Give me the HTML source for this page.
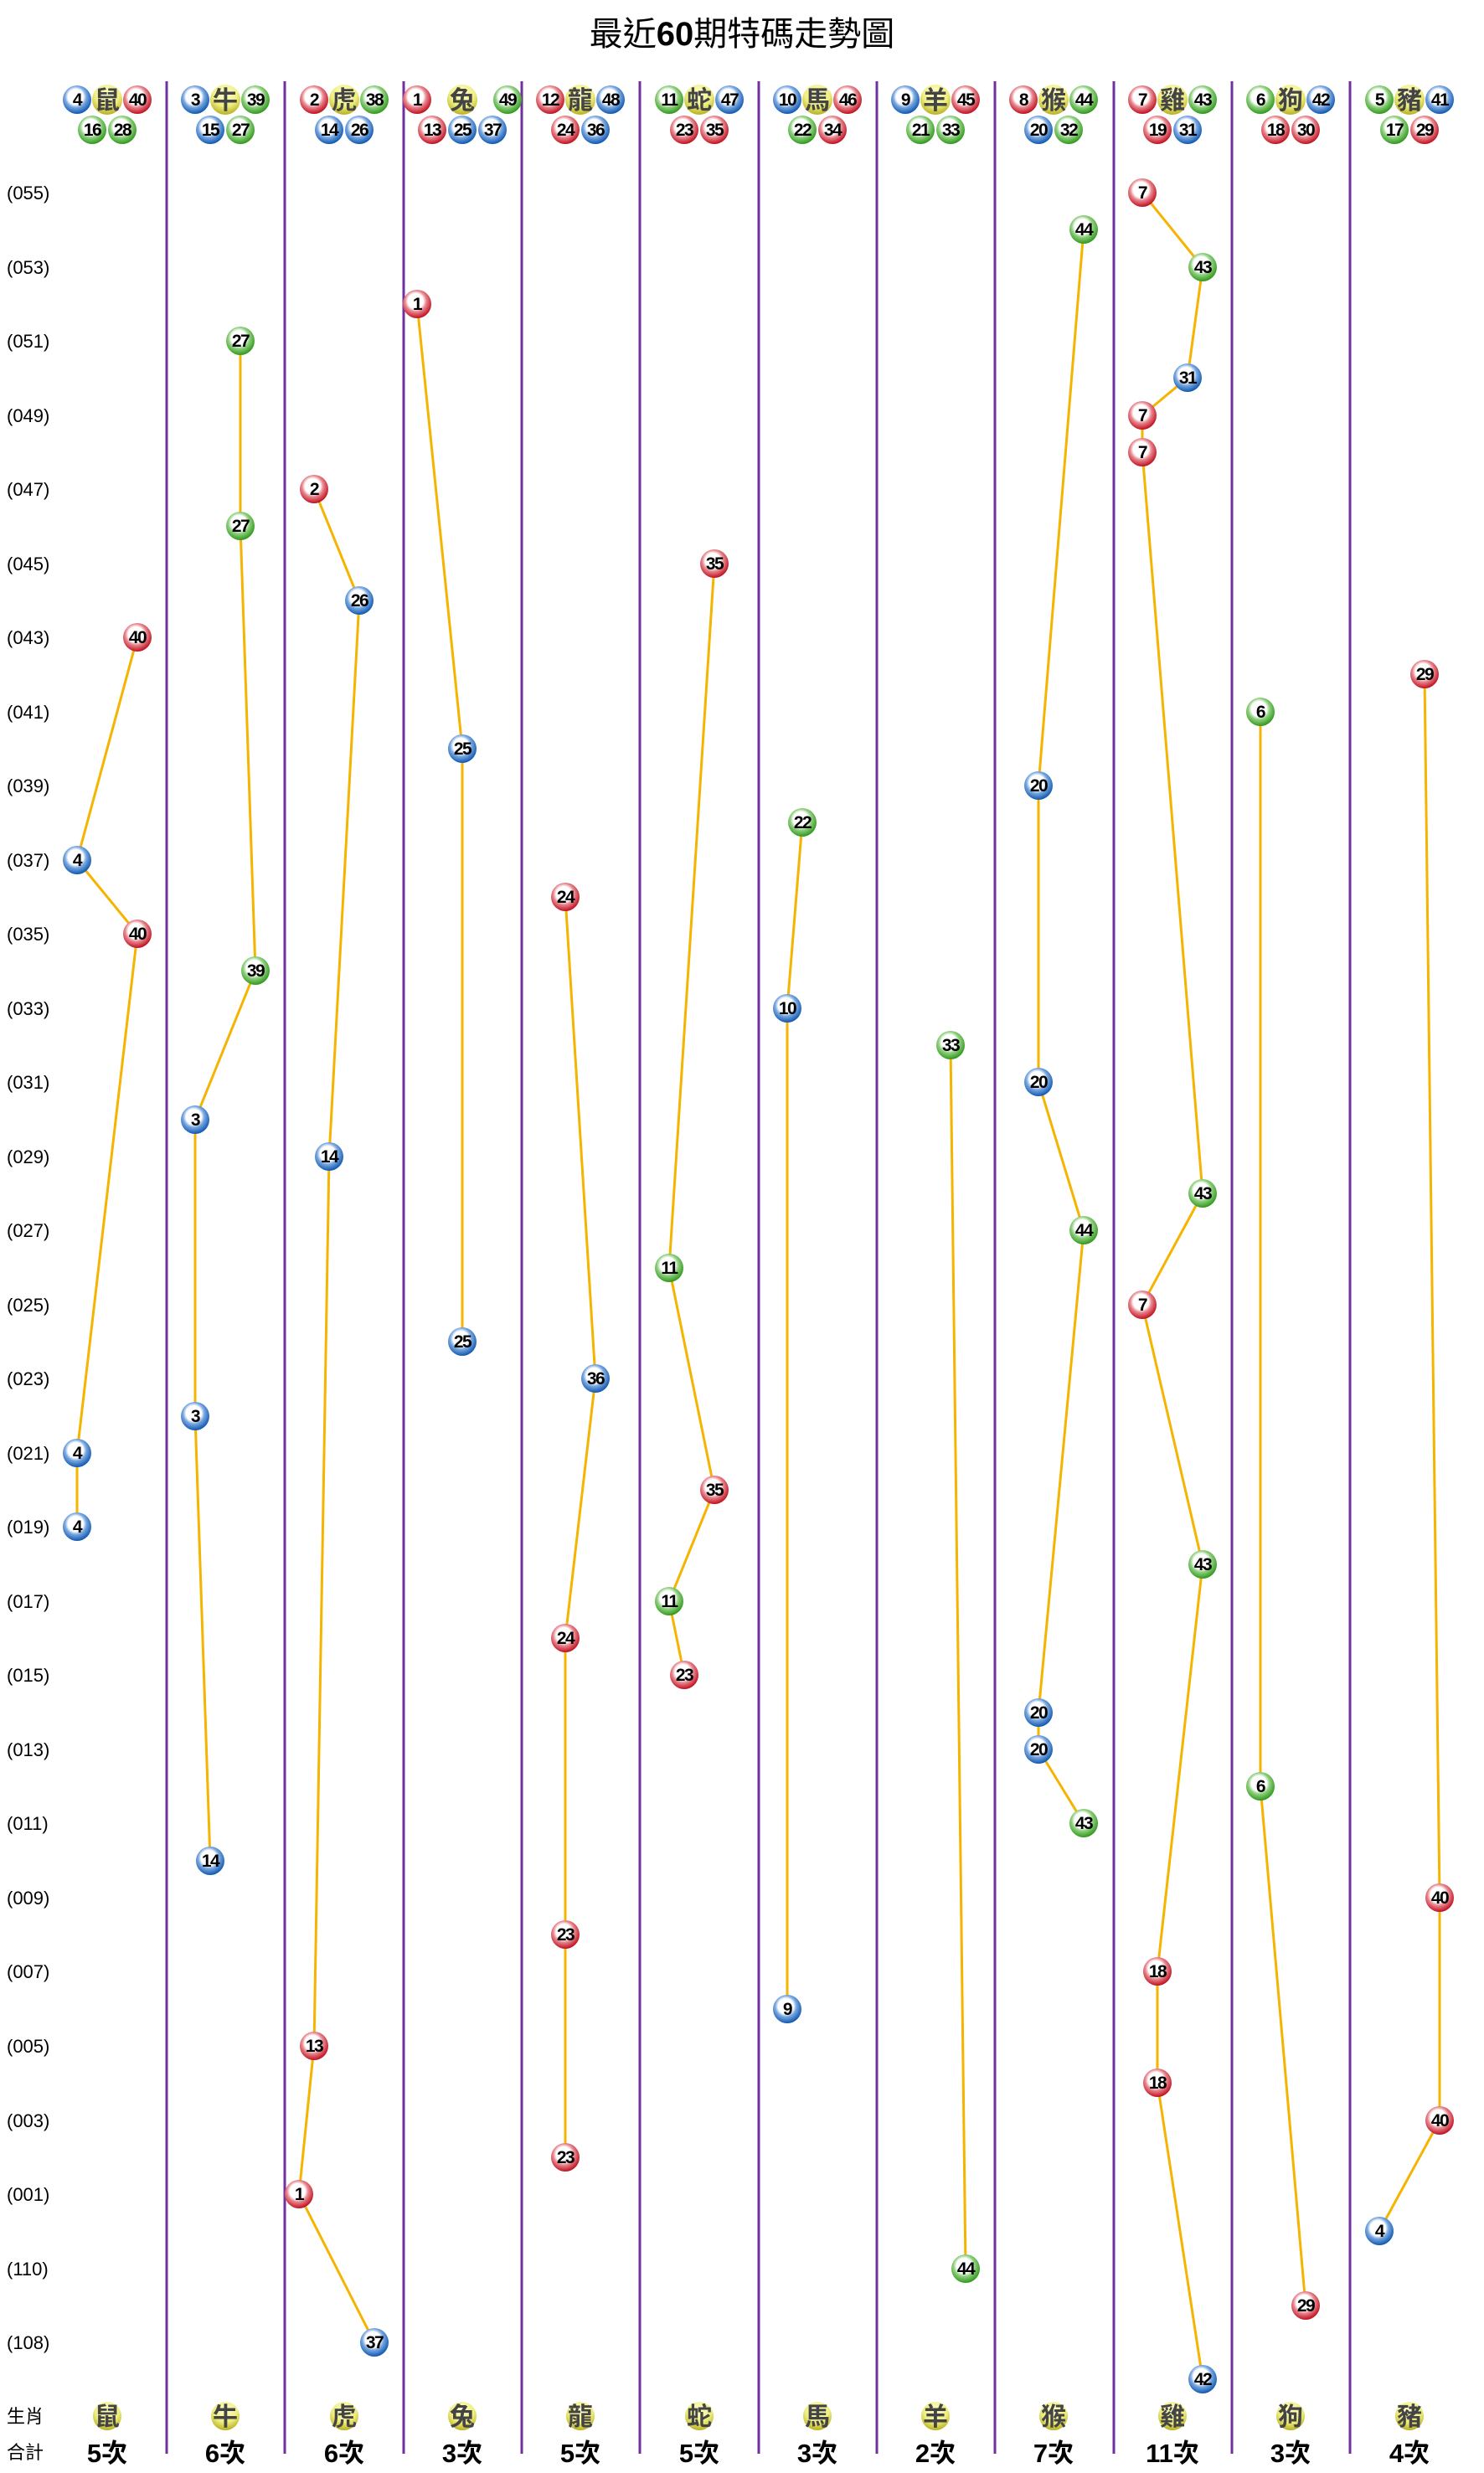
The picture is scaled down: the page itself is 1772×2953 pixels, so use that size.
<!DOCTYPE html>
<html><head><meta charset="utf-8"><style>
html,body{margin:0;padding:0;background:#fff;}
svg{display:block;}
.n{font-family:"Liberation Sans",sans-serif;font-weight:bold;font-size:21px;text-anchor:middle;fill:#000;letter-spacing:-1.5px;}
.z{font-family:"Liberation Sans","Noto Sans CJK TC",sans-serif;font-weight:bold;font-size:30px;text-anchor:middle;fill:#444;}
.lb{font-family:"Liberation Sans","Noto Sans CJK TC",sans-serif;font-size:22px;fill:#000;}
.ct{font-family:"Liberation Sans","Noto Sans CJK TC",sans-serif;font-size:31px;font-weight:bold;text-anchor:middle;fill:#000;}
.ln{fill:none;stroke:#f5b400;stroke-width:3;}
</style></head><body>
<svg width="1772" height="2953" viewBox="0 0 1772 2953" xmlns="http://www.w3.org/2000/svg">
<defs>
<radialGradient id="R" cx="45%" cy="40%" r="60%"><stop offset="0" stop-color="#fff"/><stop offset="0.45" stop-color="#fff"/><stop offset="0.62" stop-color="#e88890"/><stop offset="1" stop-color="#c01020"/></radialGradient>
<radialGradient id="B" cx="45%" cy="40%" r="60%"><stop offset="0" stop-color="#fff"/><stop offset="0.45" stop-color="#fff"/><stop offset="0.62" stop-color="#7aa8e0"/><stop offset="1" stop-color="#1058b0"/></radialGradient>
<radialGradient id="G" cx="45%" cy="40%" r="60%"><stop offset="0" stop-color="#fff"/><stop offset="0.45" stop-color="#fff"/><stop offset="0.62" stop-color="#90d080"/><stop offset="1" stop-color="#30981c"/></radialGradient>
<radialGradient id="Y" cx="50%" cy="30%" r="70%"><stop offset="0" stop-color="#ffffd0"/><stop offset="0.6" stop-color="#eeee80"/><stop offset="1" stop-color="#b8b020"/></radialGradient>
</defs>

<text x="886" y="54" text-anchor="middle" style="font-family:'Liberation Sans','Noto Sans CJK TC',sans-serif;font-size:40px;">最近<tspan font-weight="bold">60</tspan>期特碼走勢圖</text>

<g stroke="#7030a0" stroke-width="3">
<line x1="199" y1="97" x2="199" y2="2930"/><line x1="340" y1="97" x2="340" y2="2930"/><line x1="482" y1="97" x2="482" y2="2930"/><line x1="623" y1="97" x2="623" y2="2930"/><line x1="764" y1="97" x2="764" y2="2930"/><line x1="906" y1="97" x2="906" y2="2930"/><line x1="1047" y1="97" x2="1047" y2="2930"/><line x1="1188" y1="97" x2="1188" y2="2930"/><line x1="1330" y1="97" x2="1330" y2="2930"/><line x1="1471" y1="97" x2="1471" y2="2930"/><line x1="1612" y1="97" x2="1612" y2="2930"/>
</g>

<g class="lb">
<text x="8" y="238">(055)</text><text x="8" y="327">(053)</text><text x="8" y="415">(051)</text><text x="8" y="504">(049)</text><text x="8" y="592">(047)</text><text x="8" y="681">(045)</text><text x="8" y="769">(043)</text><text x="8" y="858">(041)</text><text x="8" y="946">(039)</text><text x="8" y="1035">(037)</text><text x="8" y="1123">(035)</text><text x="8" y="1212">(033)</text><text x="8" y="1300">(031)</text><text x="8" y="1389">(029)</text><text x="8" y="1477">(027)</text><text x="8" y="1566">(025)</text><text x="8" y="1654">(023)</text><text x="8" y="1743">(021)</text><text x="8" y="1831">(019)</text><text x="8" y="1920">(017)</text><text x="8" y="2008">(015)</text><text x="8" y="2097">(013)</text><text x="8" y="2185">(011)</text><text x="8" y="2274">(009)</text><text x="8" y="2362">(007)</text><text x="8" y="2451">(005)</text><text x="8" y="2540">(003)</text><text x="8" y="2628">(001)</text><text x="8" y="2717">(110)</text><text x="8" y="2805">(108)</text>
<text x="8" y="2893">生肖</text><text x="8" y="2936">合計</text>
</g>

<polyline class="ln" points="164,761 92,1027 164,1115 92,1735 92,1823"/>
<polyline class="ln" points="287,407 287,628 305,1159 233,1337 233,1691 251,2222"/>
<polyline class="ln" points="375,584 429,717 393,1381 375,2443 357,2620 447,2797"/>
<polyline class="ln" points="498,363 552,894 552,1602"/>
<polyline class="ln" points="675,1071 711,1646 675,1956 675,2310 675,2576"/>
<polyline class="ln" points="853,673 799,1514 853,1779 799,1912 817,2000"/>
<polyline class="ln" points="958,982 940,1204 940,2399"/>
<polyline class="ln" points="1135,1248 1153,2709"/>
<polyline class="ln" points="1294,274 1240,938 1240,1292 1294,1469 1240,2045 1240,2089 1294,2177"/>
<polyline class="ln" points="1364,230 1436,319 1418,451 1364,496 1364,540 1436,1425 1364,1558 1436,1868 1382,2354 1382,2487 1436,2841"/>
<polyline class="ln" points="1505,850 1505,2133 1559,2753"/>
<polyline class="ln" points="1701,805 1719,2266 1719,2532 1647,2664"/>

<g>
<circle cx="164" cy="761" r="17" fill="url(#R)"/><text class="n" x="164" y="768">40</text>
<circle cx="92" cy="1027" r="17" fill="url(#B)"/><text class="n" x="92" y="1034">4</text>
<circle cx="164" cy="1115" r="17" fill="url(#R)"/><text class="n" x="164" y="1122">40</text>
<circle cx="92" cy="1735" r="17" fill="url(#B)"/><text class="n" x="92" y="1742">4</text>
<circle cx="92" cy="1823" r="17" fill="url(#B)"/><text class="n" x="92" y="1830">4</text>

<circle cx="287" cy="407" r="17" fill="url(#G)"/><text class="n" x="287" y="414">27</text>
<circle cx="287" cy="628" r="17" fill="url(#G)"/><text class="n" x="287" y="635">27</text>
<circle cx="305" cy="1159" r="17" fill="url(#G)"/><text class="n" x="305" y="1166">39</text>
<circle cx="233" cy="1337" r="17" fill="url(#B)"/><text class="n" x="233" y="1344">3</text>
<circle cx="233" cy="1691" r="17" fill="url(#B)"/><text class="n" x="233" y="1698">3</text>
<circle cx="251" cy="2222" r="17" fill="url(#B)"/><text class="n" x="251" y="2229">14</text>

<circle cx="375" cy="584" r="17" fill="url(#R)"/><text class="n" x="375" y="591">2</text>
<circle cx="429" cy="717" r="17" fill="url(#B)"/><text class="n" x="429" y="724">26</text>
<circle cx="393" cy="1381" r="17" fill="url(#B)"/><text class="n" x="393" y="1388">14</text>
<circle cx="375" cy="2443" r="17" fill="url(#R)"/><text class="n" x="375" y="2450">13</text>
<circle cx="357" cy="2620" r="17" fill="url(#R)"/><text class="n" x="357" y="2627">1</text>
<circle cx="447" cy="2797" r="17" fill="url(#B)"/><text class="n" x="447" y="2804">37</text>

<circle cx="498" cy="363" r="17" fill="url(#R)"/><text class="n" x="498" y="370">1</text>
<circle cx="552" cy="894" r="17" fill="url(#B)"/><text class="n" x="552" y="901">25</text>
<circle cx="552" cy="1602" r="17" fill="url(#B)"/><text class="n" x="552" y="1609">25</text>

<circle cx="675" cy="1071" r="17" fill="url(#R)"/><text class="n" x="675" y="1078">24</text>
<circle cx="711" cy="1646" r="17" fill="url(#B)"/><text class="n" x="711" y="1653">36</text>
<circle cx="675" cy="1956" r="17" fill="url(#R)"/><text class="n" x="675" y="1963">24</text>
<circle cx="675" cy="2310" r="17" fill="url(#R)"/><text class="n" x="675" y="2317">23</text>
<circle cx="675" cy="2576" r="17" fill="url(#R)"/><text class="n" x="675" y="2583">23</text>

<circle cx="853" cy="673" r="17" fill="url(#R)"/><text class="n" x="853" y="680">35</text>
<circle cx="799" cy="1514" r="17" fill="url(#G)"/><text class="n" x="799" y="1521">11</text>
<circle cx="853" cy="1779" r="17" fill="url(#R)"/><text class="n" x="853" y="1786">35</text>
<circle cx="799" cy="1912" r="17" fill="url(#G)"/><text class="n" x="799" y="1919">11</text>
<circle cx="817" cy="2000" r="17" fill="url(#R)"/><text class="n" x="817" y="2007">23</text>

<circle cx="958" cy="982" r="17" fill="url(#G)"/><text class="n" x="958" y="989">22</text>
<circle cx="940" cy="1204" r="17" fill="url(#B)"/><text class="n" x="940" y="1211">10</text>
<circle cx="940" cy="2399" r="17" fill="url(#B)"/><text class="n" x="940" y="2406">9</text>

<circle cx="1135" cy="1248" r="17" fill="url(#G)"/><text class="n" x="1135" y="1255">33</text>
<circle cx="1153" cy="2709" r="17" fill="url(#G)"/><text class="n" x="1153" y="2716">44</text>

<circle cx="1294" cy="274" r="17" fill="url(#G)"/><text class="n" x="1294" y="281">44</text>
<circle cx="1240" cy="938" r="17" fill="url(#B)"/><text class="n" x="1240" y="945">20</text>
<circle cx="1240" cy="1292" r="17" fill="url(#B)"/><text class="n" x="1240" y="1299">20</text>
<circle cx="1294" cy="1469" r="17" fill="url(#G)"/><text class="n" x="1294" y="1476">44</text>
<circle cx="1240" cy="2045" r="17" fill="url(#B)"/><text class="n" x="1240" y="2052">20</text>
<circle cx="1240" cy="2089" r="17" fill="url(#B)"/><text class="n" x="1240" y="2096">20</text>
<circle cx="1294" cy="2177" r="17" fill="url(#G)"/><text class="n" x="1294" y="2184">43</text>

<circle cx="1364" cy="230" r="17" fill="url(#R)"/><text class="n" x="1364" y="237">7</text>
<circle cx="1436" cy="319" r="17" fill="url(#G)"/><text class="n" x="1436" y="326">43</text>
<circle cx="1418" cy="451" r="17" fill="url(#B)"/><text class="n" x="1418" y="458">31</text>
<circle cx="1364" cy="496" r="17" fill="url(#R)"/><text class="n" x="1364" y="503">7</text>
<circle cx="1364" cy="540" r="17" fill="url(#R)"/><text class="n" x="1364" y="547">7</text>
<circle cx="1436" cy="1425" r="17" fill="url(#G)"/><text class="n" x="1436" y="1432">43</text>
<circle cx="1364" cy="1558" r="17" fill="url(#R)"/><text class="n" x="1364" y="1565">7</text>
<circle cx="1436" cy="1868" r="17" fill="url(#G)"/><text class="n" x="1436" y="1875">43</text>
<circle cx="1382" cy="2354" r="17" fill="url(#R)"/><text class="n" x="1382" y="2361">18</text>
<circle cx="1382" cy="2487" r="17" fill="url(#R)"/><text class="n" x="1382" y="2494">18</text>
<circle cx="1436" cy="2841" r="17" fill="url(#B)"/><text class="n" x="1436" y="2848">42</text>

<circle cx="1505" cy="850" r="17" fill="url(#G)"/><text class="n" x="1505" y="857">6</text>
<circle cx="1505" cy="2133" r="17" fill="url(#G)"/><text class="n" x="1505" y="2140">6</text>
<circle cx="1559" cy="2753" r="17" fill="url(#R)"/><text class="n" x="1559" y="2760">29</text>

<circle cx="1701" cy="805" r="17" fill="url(#R)"/><text class="n" x="1701" y="812">29</text>
<circle cx="1719" cy="2266" r="17" fill="url(#R)"/><text class="n" x="1719" y="2273">40</text>
<circle cx="1719" cy="2532" r="17" fill="url(#R)"/><text class="n" x="1719" y="2539">40</text>
<circle cx="1647" cy="2664" r="17" fill="url(#B)"/><text class="n" x="1647" y="2671">4</text>
</g>

<g>
<circle cx="92" cy="119" r="17" fill="url(#B)"/><text class="n" x="92" y="126">4</text>
<circle cx="128" cy="119" r="18" fill="url(#Y)"/><text class="z" x="128" y="130">鼠</text>
<circle cx="164" cy="119" r="17" fill="url(#R)"/><text class="n" x="164" y="126">40</text>
<circle cx="110" cy="155" r="17" fill="url(#G)"/><text class="n" x="110" y="162">16</text>
<circle cx="146" cy="155" r="17" fill="url(#G)"/><text class="n" x="146" y="162">28</text>

<circle cx="233" cy="119" r="17" fill="url(#B)"/><text class="n" x="233" y="126">3</text>
<circle cx="269" cy="119" r="18" fill="url(#Y)"/><text class="z" x="269" y="130">牛</text>
<circle cx="305" cy="119" r="17" fill="url(#G)"/><text class="n" x="305" y="126">39</text>
<circle cx="251" cy="155" r="17" fill="url(#B)"/><text class="n" x="251" y="162">15</text>
<circle cx="287" cy="155" r="17" fill="url(#G)"/><text class="n" x="287" y="162">27</text>

<circle cx="375" cy="119" r="17" fill="url(#R)"/><text class="n" x="375" y="126">2</text>
<circle cx="411" cy="119" r="18" fill="url(#Y)"/><text class="z" x="411" y="130">虎</text>
<circle cx="447" cy="119" r="17" fill="url(#G)"/><text class="n" x="447" y="126">38</text>
<circle cx="393" cy="155" r="17" fill="url(#B)"/><text class="n" x="393" y="162">14</text>
<circle cx="429" cy="155" r="17" fill="url(#B)"/><text class="n" x="429" y="162">26</text>

<circle cx="498" cy="119" r="17" fill="url(#R)"/><text class="n" x="498" y="126">1</text>
<circle cx="552" cy="119" r="18" fill="url(#Y)"/><text class="z" x="552" y="130">兔</text>
<circle cx="606" cy="119" r="17" fill="url(#G)"/><text class="n" x="606" y="126">49</text>
<circle cx="516" cy="155" r="17" fill="url(#R)"/><text class="n" x="516" y="162">13</text>
<circle cx="552" cy="155" r="17" fill="url(#B)"/><text class="n" x="552" y="162">25</text>
<circle cx="588" cy="155" r="17" fill="url(#B)"/><text class="n" x="588" y="162">37</text>

<circle cx="657" cy="119" r="17" fill="url(#R)"/><text class="n" x="657" y="126">12</text>
<circle cx="693" cy="119" r="18" fill="url(#Y)"/><text class="z" x="693" y="130">龍</text>
<circle cx="729" cy="119" r="17" fill="url(#B)"/><text class="n" x="729" y="126">48</text>
<circle cx="675" cy="155" r="17" fill="url(#R)"/><text class="n" x="675" y="162">24</text>
<circle cx="711" cy="155" r="17" fill="url(#B)"/><text class="n" x="711" y="162">36</text>

<circle cx="799" cy="119" r="17" fill="url(#G)"/><text class="n" x="799" y="126">11</text>
<circle cx="835" cy="119" r="18" fill="url(#Y)"/><text class="z" x="835" y="130">蛇</text>
<circle cx="871" cy="119" r="17" fill="url(#B)"/><text class="n" x="871" y="126">47</text>
<circle cx="817" cy="155" r="17" fill="url(#R)"/><text class="n" x="817" y="162">23</text>
<circle cx="853" cy="155" r="17" fill="url(#R)"/><text class="n" x="853" y="162">35</text>

<circle cx="940" cy="119" r="17" fill="url(#B)"/><text class="n" x="940" y="126">10</text>
<circle cx="976" cy="119" r="18" fill="url(#Y)"/><text class="z" x="976" y="130">馬</text>
<circle cx="1012" cy="119" r="17" fill="url(#R)"/><text class="n" x="1012" y="126">46</text>
<circle cx="958" cy="155" r="17" fill="url(#G)"/><text class="n" x="958" y="162">22</text>
<circle cx="994" cy="155" r="17" fill="url(#R)"/><text class="n" x="994" y="162">34</text>

<circle cx="1081" cy="119" r="17" fill="url(#B)"/><text class="n" x="1081" y="126">9</text>
<circle cx="1117" cy="119" r="18" fill="url(#Y)"/><text class="z" x="1117" y="130">羊</text>
<circle cx="1153" cy="119" r="17" fill="url(#R)"/><text class="n" x="1153" y="126">45</text>
<circle cx="1099" cy="155" r="17" fill="url(#G)"/><text class="n" x="1099" y="162">21</text>
<circle cx="1135" cy="155" r="17" fill="url(#G)"/><text class="n" x="1135" y="162">33</text>

<circle cx="1222" cy="119" r="17" fill="url(#R)"/><text class="n" x="1222" y="126">8</text>
<circle cx="1258" cy="119" r="18" fill="url(#Y)"/><text class="z" x="1258" y="130">猴</text>
<circle cx="1294" cy="119" r="17" fill="url(#G)"/><text class="n" x="1294" y="126">44</text>
<circle cx="1240" cy="155" r="17" fill="url(#B)"/><text class="n" x="1240" y="162">20</text>
<circle cx="1276" cy="155" r="17" fill="url(#G)"/><text class="n" x="1276" y="162">32</text>

<circle cx="1364" cy="119" r="17" fill="url(#R)"/><text class="n" x="1364" y="126">7</text>
<circle cx="1400" cy="119" r="18" fill="url(#Y)"/><text class="z" x="1400" y="130">雞</text>
<circle cx="1436" cy="119" r="17" fill="url(#G)"/><text class="n" x="1436" y="126">43</text>
<circle cx="1382" cy="155" r="17" fill="url(#R)"/><text class="n" x="1382" y="162">19</text>
<circle cx="1418" cy="155" r="17" fill="url(#B)"/><text class="n" x="1418" y="162">31</text>

<circle cx="1505" cy="119" r="17" fill="url(#G)"/><text class="n" x="1505" y="126">6</text>
<circle cx="1541" cy="119" r="18" fill="url(#Y)"/><text class="z" x="1541" y="130">狗</text>
<circle cx="1577" cy="119" r="17" fill="url(#B)"/><text class="n" x="1577" y="126">42</text>
<circle cx="1523" cy="155" r="17" fill="url(#R)"/><text class="n" x="1523" y="162">18</text>
<circle cx="1559" cy="155" r="17" fill="url(#R)"/><text class="n" x="1559" y="162">30</text>

<circle cx="1647" cy="119" r="17" fill="url(#G)"/><text class="n" x="1647" y="126">5</text>
<circle cx="1683" cy="119" r="18" fill="url(#Y)"/><text class="z" x="1683" y="130">豬</text>
<circle cx="1719" cy="119" r="17" fill="url(#B)"/><text class="n" x="1719" y="126">41</text>
<circle cx="1665" cy="155" r="17" fill="url(#G)"/><text class="n" x="1665" y="162">17</text>
<circle cx="1701" cy="155" r="17" fill="url(#R)"/><text class="n" x="1701" y="162">29</text>
</g>

<g>
<circle cx="128" cy="2885" r="17" fill="url(#Y)"/><text class="z" x="128" y="2896">鼠</text>
<circle cx="269" cy="2885" r="17" fill="url(#Y)"/><text class="z" x="269" y="2896">牛</text>
<circle cx="411" cy="2885" r="17" fill="url(#Y)"/><text class="z" x="411" y="2896">虎</text>
<circle cx="552" cy="2885" r="17" fill="url(#Y)"/><text class="z" x="552" y="2896">兔</text>
<circle cx="693" cy="2885" r="17" fill="url(#Y)"/><text class="z" x="693" y="2896">龍</text>
<circle cx="835" cy="2885" r="17" fill="url(#Y)"/><text class="z" x="835" y="2896">蛇</text>
<circle cx="976" cy="2885" r="17" fill="url(#Y)"/><text class="z" x="976" y="2896">馬</text>
<circle cx="1117" cy="2885" r="17" fill="url(#Y)"/><text class="z" x="1117" y="2896">羊</text>
<circle cx="1258" cy="2885" r="17" fill="url(#Y)"/><text class="z" x="1258" y="2896">猴</text>
<circle cx="1400" cy="2885" r="17" fill="url(#Y)"/><text class="z" x="1400" y="2896">雞</text>
<circle cx="1541" cy="2885" r="17" fill="url(#Y)"/><text class="z" x="1541" y="2896">狗</text>
<circle cx="1683" cy="2885" r="17" fill="url(#Y)"/><text class="z" x="1683" y="2896">豬</text>
</g>
<g class="ct">
<text x="128" y="2940">5次</text><text x="269" y="2940">6次</text><text x="411" y="2940">6次</text><text x="552" y="2940">3次</text><text x="693" y="2940">5次</text><text x="835" y="2940">5次</text><text x="976" y="2940">3次</text><text x="1117" y="2940">2次</text><text x="1258" y="2940">7次</text><text x="1400" y="2940">11次</text><text x="1541" y="2940">3次</text><text x="1683" y="2940">4次</text>
</g>
</svg>
</body></html>
